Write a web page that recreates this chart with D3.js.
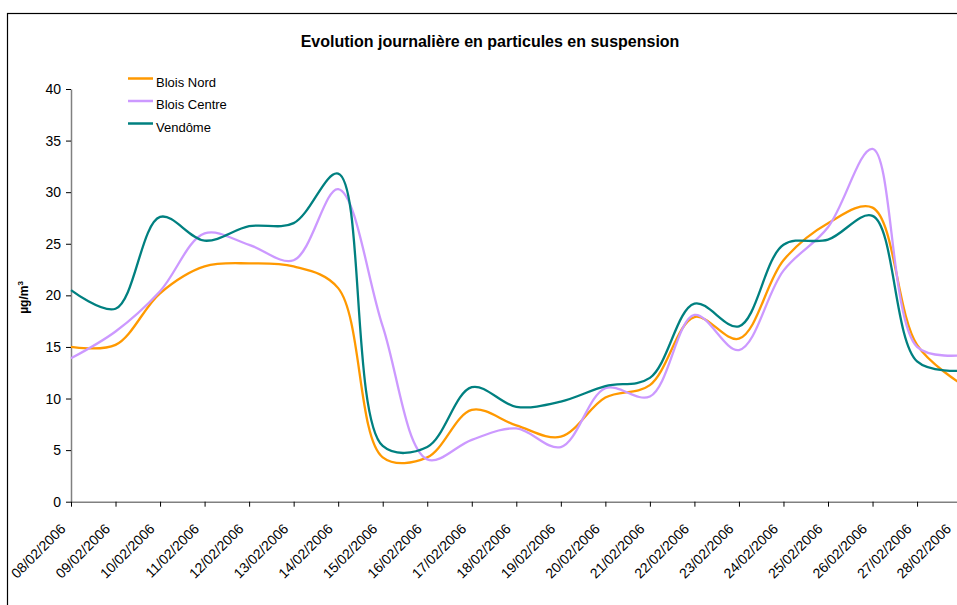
<!doctype html>
<html lang="fr">
<head>
    <meta charset="UTF-8">
    <title>Evolution journalière en particules en suspension</title>
    <style>
        body { margin: 0; background: #fff; }
        svg { display: block; font-family: "Liberation Sans", Arial, sans-serif; }
        .axis .domain { stroke: #808080; stroke-width: 1.5; }
        .axis .tick line { stroke: #000; }
        .axis .tick text { fill: #000; font-size: 14px; }
        .serie { fill: none; stroke-width: 2.3; }
    </style>
</head>
<body>
<div class="chart"></div>

<script src="https://d3js.org/d3.v7.min.js"></script>
<script>
    // Dates (une valeur par jour)
    const dates = ['08/02/2006', '09/02/2006', '10/02/2006', '11/02/2006', '12/02/2006', '13/02/2006',
        '14/02/2006', '15/02/2006', '16/02/2006', '17/02/2006', '18/02/2006', '19/02/2006', '20/02/2006',
        '21/02/2006', '22/02/2006', '23/02/2006', '24/02/2006', '25/02/2006', '26/02/2006', '27/02/2006',
        '28/02/2006']

    const bloisNord = [15.0, 15.2, 20.2, 22.8, 23.1, 22.8, 20.7, 4.3, 4.3, 8.9, 7.4,
        6.3, 10.1, 11.3, 17.9, 15.8, 23.4, 27.0, 28.5, 15.2, 11.4]
    const bloisCentre = [13.9, 16.5, 20.4, 26.0, 24.9, 23.4, 30.3, 17.0, 4.1, 6.0, 7.1,
        5.3, 11.0, 10.2, 18.1, 14.7, 22.4, 26.6, 34.2, 15.0, 14.2]
    const vendome = [20.5, 18.7, 27.6, 25.3, 26.7, 27.0, 31.8, 5.4, 5.3, 11.1, 9.2,
        9.7, 11.2, 12.0, 19.2, 17.0, 24.9, 25.4, 27.7, 13.6, 12.7]

    const yTicks = [0, 5, 10, 15, 20, 25, 30, 35, 40]

    const series = [
        {name: 'Blois Nord', values: bloisNord, color: '#FF9900'},
        {name: 'Blois Centre', values: bloisCentre, color: '#CC99FF'},
        {name: 'Vendôme', values: vendome, color: '#008080'}
    ]

    const width = 957, height = 605

    const svg = d3.select('.chart')
        .append('svg')
        .attr('width', width)
        .attr('height', height)

    // cadre du graphique (déborde de la fenêtre)
    svg.append('rect')
        .attr('x', 7.5)
        .attr('y', 13.5)
        .attr('width', 1100)
        .attr('height', 800)
        .attr('fill', 'none')
        .attr('stroke', '#000')
        .attr('stroke-width', 1.2)

    svg.append('text')
        .attr('x', 490)
        .attr('y', 47)
        .attr('text-anchor', 'middle')
        .style('font-size', '16px')
        .style('font-weight', 'bold')
        .text('Evolution journalière en particules en suspension')

    const x = d3.scalePoint()
        .domain(dates)
        .range([71, 961.6])

    const y = d3.scaleLinear()
        .domain([0, 40])
        .range([501.7, 89])

    // axe Y
    svg.append('g')
        .attr('class', 'axis')
        .attr('transform', 'translate(71,0)')
        .call(d3.axisLeft(y).tickValues(yTicks).tickSize(5).tickSizeOuter(0).tickPadding(5))

    // axe X
    const xAxis = svg.append('g')
        .attr('class', 'axis')
        .attr('transform', 'translate(0,501.7)')
        .call(d3.axisBottom(x).tickSize(5).tickSizeOuter(0))
    xAxis.selectAll('.tick text')
        .attr('x', 0)
        .attr('y', 0)
        .attr('dy', 0)
        .attr('text-anchor', 'end')
        // la dernière étiquette est ramenée dans la fenêtre comme dans Excel
        .attr('transform', (d, i) => 'translate(' + (i === dates.length - 1 ? -10 : -5) + ',28) rotate(-45)')

    // titre axe Y
    const yLabel = svg.append('text')
        .attr('transform', 'translate(28,297.5) rotate(-90)')
        .attr('text-anchor', 'middle')
        .style('font-size', '12px')
        .style('font-weight', 'bold')
    yLabel.append('tspan').text('µg/m')
    yLabel.append('tspan').attr('dy', -5).style('font-size', '8px').text('3')

    // courbes lissées
    const line = d3.line()
        .x((d, i) => x(dates[i]))
        .y(d => y(d))
        .curve(d3.curveCatmullRom.alpha(0.5))

    svg.append('g')
        .selectAll('path')
        .data(series)
        .enter().append('path')
        .attr('class', 'serie')
        .attr('stroke', d => d.color)
        .attr('d', d => line(d.values))

    // légende
    const legend = svg.append('g')
        .selectAll('g')
        .data(series)
        .enter().append('g')
        .attr('transform', (d, i) => 'translate(128,' + (78.5 + i * 22.5) + ')')
    legend.append('line')
        .attr('x1', 0)
        .attr('x2', 25)
        .attr('stroke', d => d.color)
        .attr('stroke-width', 2.5)
    legend.append('text')
        .attr('x', 28)
        .attr('y', 8)
        .style('font-size', '13px')
        .text(d => d.name)
</script>
</body>
</html>
